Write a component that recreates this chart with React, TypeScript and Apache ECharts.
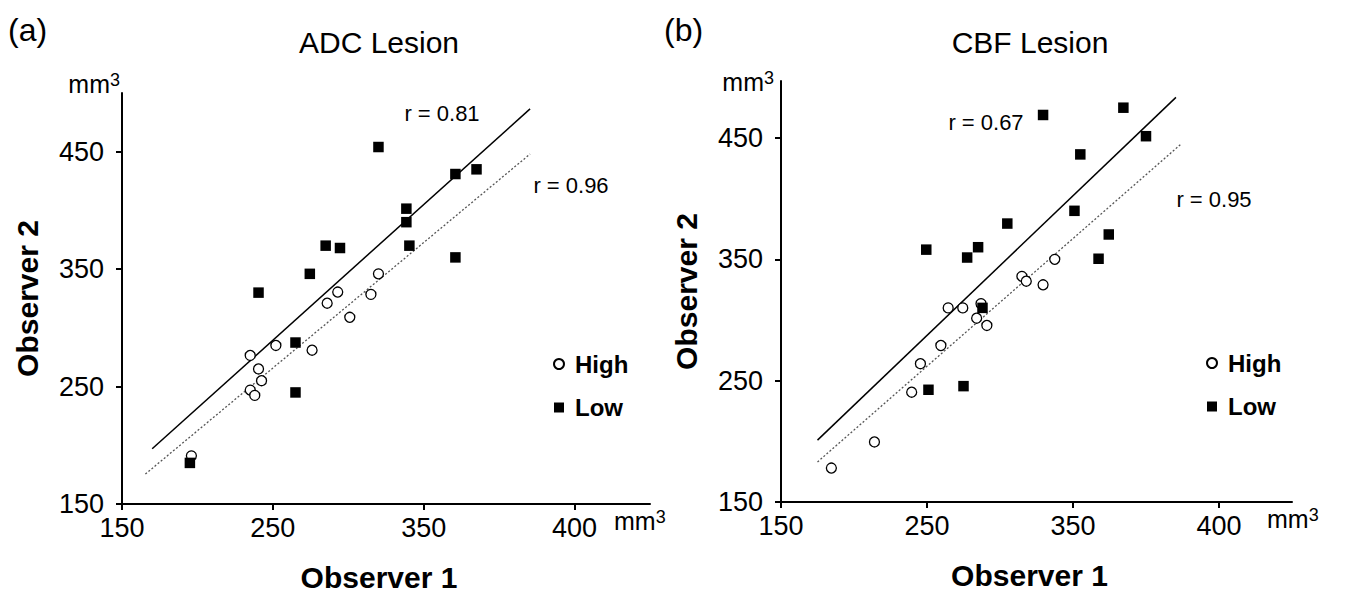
import React, { useEffect, useRef } from 'react';
import * as echarts from 'echarts';

// ---- data ----
const tickValues = [150, 250, 350, 450];
const xTickLabels = ['150', '250', '350', '400'];
const yTickLabels = ['150', '250', '350', '450'];

const adcHigh = [
  [320, 346], [293, 330.5], [315, 328.5], [286, 321], [301, 309], [252, 285], [276, 281],
  [235, 276.5], [240.5, 265], [242.5, 255], [235, 247], [238, 242.5], [196, 191],
];
const adcLow = [
  [320, 454], [371, 431], [385, 435], [338.5, 401.5], [338.5, 390], [340.5, 370], [285, 370],
  [294.5, 368], [371, 360], [274.5, 346], [240.5, 330], [265, 287.5], [265, 245], [195, 185],
];
const adcFitLow = [[170, 197], [420.5, 486.5]];
const adcFitHigh = [[165.5, 175.5], [420.5, 448]];

const cbfHigh = [
  [337.5, 350], [315, 336], [318, 332], [329.5, 329], [287, 313.5], [264.5, 310], [274.5, 310],
  [284, 301.5], [291, 295.5], [259.5, 279], [245.5, 264], [239.5, 240.5], [214, 199.5], [184.5, 178],
];
const cbfLow = [
  [329.5, 469], [384.5, 475], [400, 451.5], [355, 436.5], [351, 390], [305, 379.5], [374.5, 370.5],
  [249.5, 358], [285, 360], [277.5, 351.5], [367.5, 350.5], [288, 310], [251, 242.5], [275, 245.5],
];
const cbfFitLow = [[175, 201], [420.5, 483.5]];
const cbfFitHigh = [[175, 183], [423.5, 444.5]];

const panelLabels = ['(a)', '(b)'];
const panelTitles = ['ADC Lesion', 'CBF Lesion'];
const rLabels = [['r = 0.81', 'r = 0.96'], ['r = 0.67', 'r = 0.95']];

const FONT = '"Liberation Sans", Arial, Helvetica, sans-serif';
const INK = '#000';

function xAxis(gridIndex: number) {
  return {
    type: 'value', gridIndex, min: 150, max: 500,
    axisLine: { show: true, lineStyle: { color: INK, width: 2 } },
    axisTick: { show: true, customValues: tickValues, length: 6, lineStyle: { color: INK, width: 2 } },
    axisLabel: {
      customValues: tickValues, margin: 10, fontSize: 27, color: INK, fontFamily: FONT,
      formatter: (v: number) => xTickLabels[tickValues.indexOf(v)] ?? '',
    },
    splitLine: { show: false },
    name: 'Observer 1', nameLocation: 'middle', nameGap: 58,
    nameTextStyle: { fontSize: 30, fontWeight: 'bold', color: INK, fontFamily: FONT, padding: [0, 14, 0, 0] },
  };
}
function yAxis(gridIndex: number, max: number) {
  return {
    type: 'value', gridIndex, min: 150, max,
    axisLine: { show: true, lineStyle: { color: INK, width: 2 } },
    axisTick: { show: true, customValues: tickValues, length: 6, lineStyle: { color: INK, width: 2 } },
    axisLabel: {
      customValues: tickValues, margin: 18, fontSize: 27, color: INK, fontFamily: FONT,
      formatter: (v: number) => yTickLabels[tickValues.indexOf(v)] ?? '',
    },
    splitLine: { show: false },
    name: 'Observer 2', nameLocation: 'middle', nameGap: 80,
    nameTextStyle: { fontSize: 30, fontWeight: 'bold', color: INK, fontFamily: FONT },
  };
}

function highSeries(i: number, data: number[][]) {
  return {
    type: 'scatter', name: 'High', xAxisIndex: i, yAxisIndex: i, data,
    symbol: 'circle', symbolSize: 10, z: 3,
    itemStyle: { color: '#fff', borderColor: INK, borderWidth: 1.3, opacity: 1 },
  };
}
function lowSeries(i: number, data: number[][]) {
  return {
    type: 'scatter', name: 'Low', xAxisIndex: i, yAxisIndex: i, data,
    symbol: 'rect', symbolSize: 10.5, z: 3,
    itemStyle: { color: INK, opacity: 1 },
  };
}
function fitSeries(i: number, data: number[][], dotted: boolean) {
  return {
    type: 'line', name: dotted ? 'fitHigh' + i : 'fitLow' + i, xAxisIndex: i, yAxisIndex: i, data,
    symbol: 'none', showSymbol: false, silent: true, z: 2,
    lineStyle: dotted ? { color: '#555', width: 1.3, type: [2, 2] } : { color: INK, width: 1.5 },
  };
}

function legend(left: number, top: number) {
  return {
    data: ['High', 'Low'], orient: 'vertical', left, top, padding: 0,
    itemWidth: 10, itemHeight: 10, itemGap: 19.5, selectedMode: false,
    textStyle: { fontSize: 24, fontWeight: 'bold', color: INK, fontFamily: FONT, padding: [0, 0, 0, 6] },
  };
}

function mmText(x: number, y: number, align: string) {
  return {
    type: 'text', x, y, silent: true,
    style: {
      text: 'mm{s|3}', fill: INK, fontSize: 25, fontFamily: FONT,
      align, textAlign: align, verticalAlign: 'bottom', textVerticalAlign: 'bottom',
      rich: { s: { fontSize: 18, fontFamily: FONT, fill: INK, verticalAlign: 'top' } },
    },
  };
}
function rText(text: string, x: number, y: number) {
  return {
    type: 'text', x, y, silent: true,
    style: {
      text, fill: INK, fontSize: 22, fontFamily: FONT,
      align: 'center', textAlign: 'center', verticalAlign: 'middle', textVerticalAlign: 'middle',
    },
  };
}

export default function App() {
  const ref = useRef<HTMLDivElement>(null);
  useEffect(() => {
    if (!ref.current) return;
    const chart = echarts.init(ref.current, undefined, { renderer: 'svg' });
    chart.setOption({
      animation: false,
      backgroundColor: '#fff',
      textStyle: { fontFamily: FONT },
      title: [
        { text: panelLabels[0], left: 8, top: 14, padding: 0, textStyle: { fontSize: 32, fontWeight: 'normal', color: INK, fontFamily: FONT } },
        { text: panelTitles[0], left: 379, top: 27, padding: 0, textAlign: 'center', textStyle: { fontSize: 30, fontWeight: 'normal', color: INK, fontFamily: FONT } },
        { text: panelLabels[1], left: 664, top: 14, padding: 0, textStyle: { fontSize: 32, fontWeight: 'normal', color: INK, fontFamily: FONT } },
        { text: panelTitles[1], left: 1030, top: 27, padding: 0, textAlign: 'center', textStyle: { fontSize: 30, fontWeight: 'normal', color: INK, fontFamily: FONT } },
      ],
      grid: [
        { left: 122, top: 93, width: 528, height: 411 },
        { left: 781, top: 81, width: 511, height: 421 },
      ],
      xAxis: [xAxis(0), xAxis(1)],
      yAxis: [yAxis(0, 500), yAxis(1, 497)],
      legend: [legend(553, 352), legend(1206, 351)],
      series: [
        fitSeries(0, adcFitLow, false), fitSeries(0, adcFitHigh, true),
        highSeries(0, adcHigh), lowSeries(0, adcLow),
        fitSeries(1, cbfFitLow, false), fitSeries(1, cbfFitHigh, true),
        highSeries(1, cbfHigh), lowSeries(1, cbfLow),
      ],
      graphic: [
        mmText(120, 96, 'right'),
        mmText(614, 533, 'left'),
        mmText(774, 94, 'right'),
        mmText(1267, 531, 'left'),
        rText(rLabels[0][0], 442, 113),
        rText(rLabels[0][1], 571, 185),
        rText(rLabels[1][0], 986, 122),
        rText(rLabels[1][1], 1214, 199),
      ],
    });
    return () => chart.dispose();
  }, []);
  return <div ref={ref} style={{ position: 'fixed', left: 0, top: 0, width: 1345, height: 597 }} />;
}
